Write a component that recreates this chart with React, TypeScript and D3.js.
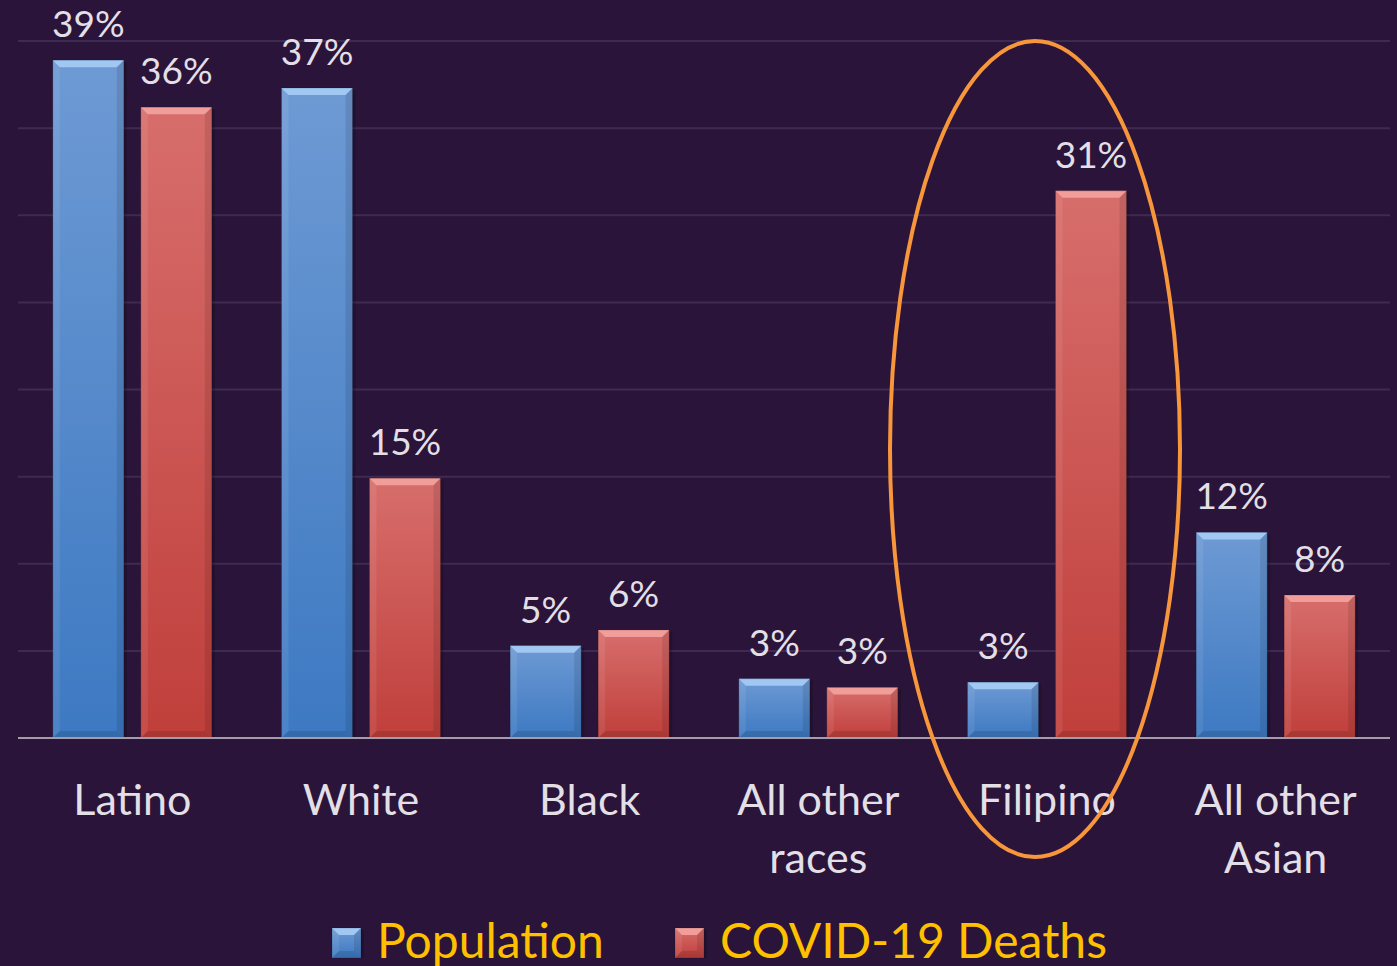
import React from "react";
import * as d3 from "d3";

const categories = [["Latino"], ["White"], ["Black"], ["All other", "races"], ["Filipino"], ["All other", "Asian"]];
const categoryKeys = ["Latino", "White", "Black", "All other races", "Filipino", "All other Asian"];
const seriesNames = ["Population", "COVID-19 Deaths"];
const populationValues = [38.9, 37.3, 5.3, 3.4, 3.2, 11.8];
const deathValues = [36.2, 14.9, 6.2, 2.9, 31.4, 8.2];
const populationLabels = ["39%", "37%", "5%", "3%", "3%", "12%"];
const deathLabels = ["36%", "15%", "6%", "3%", "31%", "8%"];
const gridTicks = [0, 5, 10, 15, 20, 25, 30, 35, 40];

const W = 1397;
const H = 966;
const BG = "#2a1439";
const FONT = "Lato, 'Open Sans', sans-serif";

const seriesStyle = [
  { id: "blue", top: "#6e9ad4", bottom: "#3d79c2", bevel: "#a6cdf5" },
  { id: "red", top: "#d76e6c", bottom: "#c03f3b", bevel: "#f4a3a0" },
];

function Bar({ x, y, w, h, s }: { x: number; y: number; w: number; h: number; s: number }) {
  const st = seriesStyle[s];
  const d = Math.min(7, h / 2);
  const x1 = x + w;
  const y1 = y + h;
  const pts = (arr: number[][]) => arr.map((p) => p.join(",")).join(" ");
  return (
    <g>
      <rect x={x + 3} y={y + 2} width={w} height={h - 2} fill="#000" opacity={0.18} />
      <rect x={x} y={y} width={w} height={h} fill={`url(#grad-${st.id})`} />
      <polygon points={pts([[x, y], [x1, y], [x1 - d, y + d], [x + d, y + d]])} fill={st.bevel} opacity={0.9} />
      <polygon points={pts([[x, y], [x + d, y + d], [x + d, y1 - d], [x, y1]])} fill="#ffffff" opacity={0.08} />
      <polygon points={pts([[x1, y], [x1, y1], [x1 - d, y1 - d], [x1 - d, y + d]])} fill="#000" opacity={0.1} />
      <polygon points={pts([[x, y1], [x + d, y1 - d], [x1 - d, y1 - d], [x1, y1]])} fill="#000" opacity={0.12} />
      <rect x={x} y={y} width={w} height={h} fill="none" stroke="#000" strokeOpacity={0.15} strokeWidth={1} />
    </g>
  );
}

export default function App() {
  const left = 18;
  const right = 1390;
  const baseY = 738;
  const y = d3.scaleLinear().domain([0, 40]).range([baseY, 41]);
  const x0 = d3.scaleBand<string>().domain(categoryKeys).range([left, right]).paddingInner(0).paddingOuter(0);
  const x1 = d3.scaleBand<string>().domain(seriesNames).range([0, x0.bandwidth()]).paddingInner(0.193).paddingOuter(0.396);
  const seriesValues = [populationValues, deathValues];
  const seriesLabels = [populationLabels, deathLabels];

  // ellipse around Filipino group
  const fx = (x0("Filipino") as number) + x0.bandwidth() / 2 - 12;

  return (
    <svg width={W} height={H} style={{ position: "absolute", left: 0, top: 0, display: "block" }}>
      <defs>
        {seriesStyle.map((st) => (
          <linearGradient key={st.id} id={`grad-${st.id}`} x1="0" y1="0" x2="0" y2="1">
            <stop offset="0" stopColor={st.top} />
            <stop offset="1" stopColor={st.bottom} />
          </linearGradient>
        ))}
      </defs>
      <rect x={0} y={0} width={W} height={H} fill={BG} />
      {gridTicks.slice(1).map((t) => (
        <line key={t} x1={left} x2={right} y1={y(t)} y2={y(t)} stroke="#3f2b52" strokeWidth={2} />
      ))}
      {categoryKeys.map((c, i) => (
        <g key={c}>
          {seriesNames.map((sn, s) => {
            const bx = (x0(c) as number) + (x1(sn) as number);
            const v = seriesValues[s][i];
            const top = y(v);
            return (
              <g key={sn}>
                <Bar x={bx} y={top} w={x1.bandwidth()} h={baseY - top} s={s} />
                <text
                  x={bx + x1.bandwidth() / 2}
                  y={top - 23}
                  textAnchor="middle"
                  fontFamily={FONT}
                  fontSize={37}
                  fill="#e2dfe6"
                >
                  {seriesLabels[s][i]}
                </text>
              </g>
            );
          })}
          {categories[i].map((line, li) => (
            <text
              key={li}
              x={(x0(c) as number) + x0.bandwidth() / 2}
              y={815 + li * 58}
              textAnchor="middle"
              fontFamily={FONT}
              fontSize={43}
              fill="#e2dfe6"
            >
              {line}
            </text>
          ))}
        </g>
      ))}
      <line x1={left} x2={right} y1={baseY} y2={baseY} stroke="#a39cab" strokeWidth={2} />
      <ellipse cx={fx} cy={449} rx={145} ry={408} fill="none" stroke="#f7963b" strokeWidth={4} />
      {/* legend */}
      {seriesNames.map((sn, s) => {
        const lx = s === 0 ? 332 : 675;
        return (
          <g key={sn}>
            <Bar x={lx} y={928} w={29} h={30} s={s} />
            <text x={lx + 45} y={958} fontFamily={FONT} fontSize={48} fill="#ffc000">
              {sn}
            </text>
          </g>
        );
      })}
    </svg>
  );
}
